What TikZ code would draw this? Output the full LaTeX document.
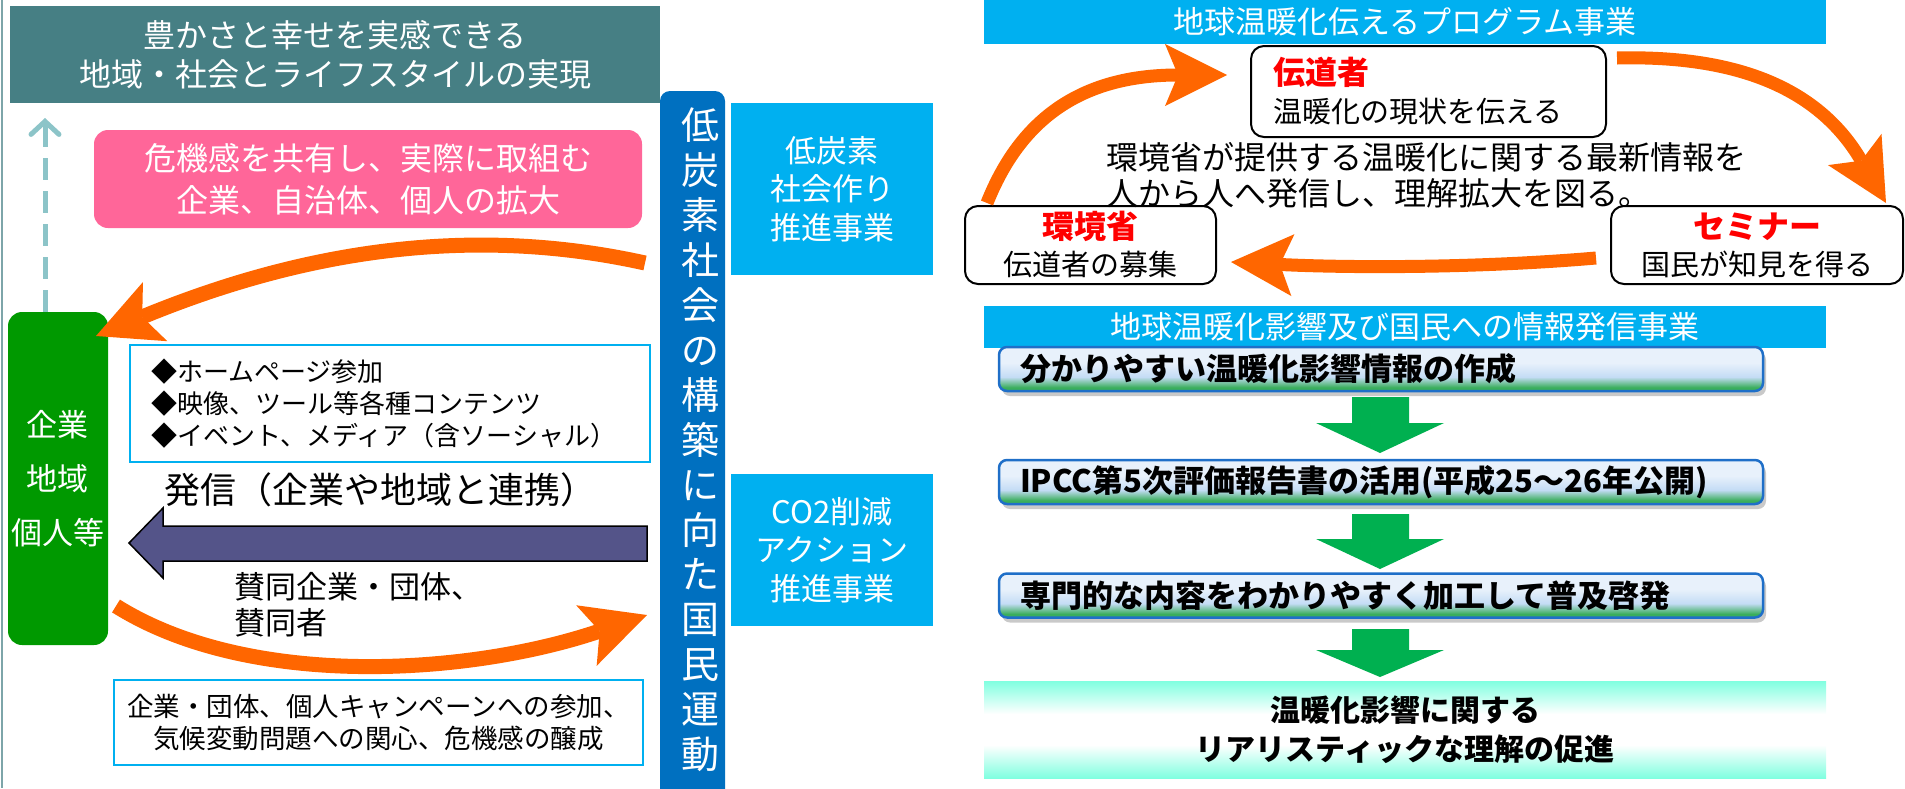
\documentclass[tikz,border=0pt]{standalone}
\usepackage{fontspec}
\setmainfont{Noto Sans CJK JP}
\usetikzlibrary{arrows.meta,shadows}

\definecolor{goalteal}{HTML}{467F84}
\definecolor{crisispink}{HTML}{FF6699}
\definecolor{actorgreen}{HTML}{009900}
\definecolor{skyblue}{HTML}{00B0F0}
\definecolor{barblue}{HTML}{0070C0}
\definecolor{arroworange}{HTML}{FF6600}
\definecolor{dashteal}{HTML}{8CC4C8}
\definecolor{sendpurple}{HTML}{545489}
\definecolor{stepgreen}{HTML}{3AAE5C}
\definecolor{stepblue}{HTML}{C4DCF5}
\definecolor{steplight}{HTML}{E8F1FB}
\definecolor{stepborder}{HTML}{1F6FC8}
\definecolor{downgreen}{HTML}{00B050}
\definecolor{aquamint}{HTML}{80FFE0}

% the middle 25bp--75bp of a shading covers the path
\pgfdeclareverticalshading{stepfill}{100bp}{color(0bp)=(stepgreen); color(29bp)=(stepgreen); color(41bp)=(stepblue); color(57bp)=(steplight); color(100bp)=(steplight)}
\pgfdeclareverticalshading{resultfill}{100bp}{color(0bp)=(aquamint); color(25bp)=(aquamint); color(42bp)=(white); color(58bp)=(white); color(75bp)=(aquamint); color(100bp)=(aquamint)}

\newcommand{\jpsize}[2]{\fontsize{#1}{#2}\selectfont}

\tikzset{
	whitebox/.style={text=white, align=center, inner sep=0pt},
	framebox/.style={draw=skyblue, line width=2pt, inner sep=0pt},
	rolebox/.style={draw=black, line width=2pt, rounded corners=13pt, fill=white, inner sep=0pt},
	stepbox/.style={draw=stepborder, line width=2.5pt, rounded corners=8pt, shade, shading=stepfill,
		drop shadow={shadow xshift=3pt, shadow yshift=-5pt, opacity=.3, fill=black!70},
		minimum width=764pt, minimum height=44pt, text width=722pt, inner xsep=21pt, inner ysep=0pt,
		align=left, font=\jpsize{31}{37}\bfseries},
	fatarrow/.style={draw=arroworange, line width=15pt,
		-{Stealth[length=64pt,width=64pt,inset=14pt,line width=0pt]}},
	thinarrow/.style={fatarrow, line width=13pt,
		-{Stealth[length=62pt,width=62pt,inset=13pt,line width=0pt]}},
}

\begin{document}
\begin{tikzpicture}[x=1pt,y=-1pt]
	\useasboundingbox (0,0) rectangle (1905,788);
	\draw[line width=2pt, goalteal!70] (2,0) -- (2,788); % left edge

	% left half
	\node[whitebox, fill=goalteal, minimum width=650pt, minimum height=97pt, font=\jpsize{32}{39}] (goal) at (335,54.5)
		{豊かさと幸せを実感できる\\地域・社会とライフスタイルの実現};
	\node[whitebox, fill=crisispink, rounded corners=14pt, minimum width=548pt, minimum height=98pt, font=\jpsize{32}{42}] (crisis) at (368,179)
		{危機感を共有し、実際に取組む\\企業、自治体、個人の拡大};
	\node[whitebox, fill=actorgreen, rounded corners=14pt, minimum width=100pt, minimum height=333pt, font=\jpsize{31}{54}] (actors) at (58,478.5)
		{企業\\地域\\個人等};
	\node[framebox, minimum width=520pt, minimum height=117pt, text width=478pt, inner xsep=21pt, align=left, font=\jpsize{26}{32}] (media) at (390,403.5)
		{◆ホームページ参加\\◆映像、ツール等各種コンテンツ\\◆イベント、メディア（含ソーシャル）};
	\node[font=\jpsize{36}{40}, inner sep=0pt] (send) at (380,490) {発信（企業や地域と連携）};
	\node[font=\jpsize{31}{36}, align=left, inner sep=0pt, anchor=west] (support) at (234,605) {賛同企業・団体、\\賛同者};
	\node[framebox, minimum width=529pt, minimum height=85pt, align=center, font=\jpsize{26.5}{32}] (campaign) at (378.5,722.5)
		{企業・団体、個人キャンペーンへの参加、\\気候変動問題への関心、危機感の醸成};

	% national movement bar
	\node[fill=barblue, rounded corners=10pt, minimum width=65pt, minimum height=740pt, inner sep=0pt] (bar) at (692.5,461) {};
	\node[whitebox, font=\jpsize{38}{44.9}] (bartext) at (700,440)
		{低\\炭\\素\\社\\会\\の\\構\\築\\に\\向\\た\\国\\民\\運\\動};
	\node[whitebox, fill=skyblue, minimum width=202pt, minimum height=172pt, font=\jpsize{31}{38.5}] (society) at (832,189)
		{低炭素\\社会作り\\推進事業};
	\node[whitebox, fill=skyblue, minimum width=202pt, minimum height=152pt, font=\jpsize{31}{38.5}] (action) at (832,550)
		{CO2削減\\アクション\\推進事業};

	\draw[dashteal, line width=5pt, dash pattern=on 22pt off 11pt,
		-{Straight Barb[length=13pt,width=28pt,line cap=round]}] (actors.north -| 45,0) -- (45,118);
	\coordinate (upTail) at (645,263);
	\coordinate (upTip) at (96,336);
	\draw[fatarrow] (upTail) .. controls (460,222) and (290,256) .. (upTip);
	\coordinate (downTail) at (116,606);
	\coordinate (downTip) at (647,615);
	\draw[fatarrow] (downTail) .. controls (250,690) and (470,675) .. (downTip);
	\filldraw[fill=sendpurple, draw=black, line width=1.5pt] (647,526) -- (163,526) -- (163,508) -- (129,543)
		-- (163,578) -- (163,561) -- (647,561) -- cycle; % block arrow

	% right half
	\node[whitebox, fill=skyblue, minimum width=842pt, minimum height=44pt, font=\jpsize{31}{36}] (program) at (1405,22)
		{地球温暖化伝えるプログラム事業};
	\node[rolebox, minimum width=355pt, minimum height=91pt, text width=311pt, inner xsep=22pt, align=left, font=\jpsize{29}{38}] (messenger) at (1428.5,91.5)
		{{\jpsize{32}{38}\bfseries\color{red}伝道者}\\温暖化の現状を伝える};
	\node[rolebox, minimum width=251pt, minimum height=78pt, align=center, font=\jpsize{29}{37}] (ministry) at (1090.5,245)
		{{\jpsize{32}{37}\bfseries\color{red}環境省}\\伝道者の募集};
	\node[rolebox, minimum width=292pt, minimum height=78pt, align=center, font=\jpsize{29}{37}] (seminar) at (1757,245)
		{{\jpsize{32}{37}\bfseries\color{red}セミナー}\\国民が知見を得る};

	\coordinate (leftTail) at (987,203);
	\coordinate (leftTip) at (1227,75);
	\draw[thinarrow] (leftTail) .. controls (1020,120) and (1080,75) .. (leftTip);
	\coordinate (rightTail) at (1617,58);
	\coordinate (rightTip) at (1886,203);
	\draw[thinarrow] (rightTail) .. controls (1740,55) and (1820,90) .. (rightTip);
	\coordinate (backTail) at (1596,258);
	\coordinate (backTip) at (1231,262);
	\draw[thinarrow] (backTail) .. controls (1480,268) and (1350,268) .. (backTip);

	\node[font=\jpsize{32}{36}, align=left, inner sep=0pt, anchor=west] (spread) at (1106,175)
		{環境省が提供する温暖化に関する最新情報を\\人から人へ発信し、理解拡大を図る。};

	\node[whitebox, fill=skyblue, minimum width=842pt, minimum height=42pt, font=\jpsize{31}{36}] (impact) at (1405,327)
		{地球温暖化影響及び国民への情報発信事業};
	\node[stepbox] (step1) at (1381,369) {分かりやすい温暖化影響情報の作成};
	\node[stepbox] (step2) at (1381,482) {IPCC第5次評価報告書の活用(平成25～26年公開)};
	\node[stepbox] (step3) at (1381,595.5) {専門的な内容をわかりやすく加工して普及啓発};
	\node[shade, shading=resultfill, minimum width=842pt, minimum height=97pt, inner sep=0pt, align=center,
		font=\jpsize{30}{39}\bfseries] (result) at (1405,729.5)
		{温暖化影響に関する\\リアリスティックな理解の促進};

	\foreach \top/\base/\tip in {397/423/453, 514/539/569, 629/650/677}
		\fill[downgreen] (1352,\top) -- (1409,\top) -- (1409,\base) -- (1444,\base) -- (1380,\tip)
			-- (1316,\base) -- (1352,\base) -- cycle;
\end{tikzpicture}
\end{document}
